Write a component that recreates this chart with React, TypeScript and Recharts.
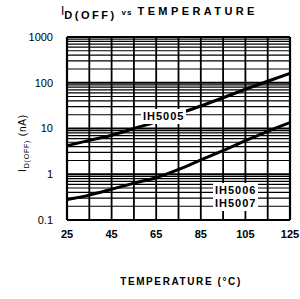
import { LineChart, Line, XAxis, YAxis, ReferenceLine } from "recharts";

// every 10 °C
const temps = [25, 35, 45, 55, 65, 75, 85, 95, 105, 115, 125];
const ih5005 = [4.2, 5.5, 7.1, 10, 14, 21, 31, 47, 72, 108, 160];
const ih5006 = [0.28, 0.35, 0.47, 0.64, 0.84, 1.27, 2.05, 3.3, 5.4, 8.7, 13.4];

const xTicks = [25, 45, 65, 85, 105, 125];
const yTicks = [0.1, 1, 10, 100, 1000];
const decades = [0.1, 1, 10, 100];
const minorSteps = [2, 3, 4, 5, 6, 7, 8, 9];

const data = temps.map((t, i) => ({ t, ih5005: ih5005[i], ih5006: ih5006[i] }));
const minorValues = decades.flatMap((d) => minorSteps.map((m) => +(d * m).toPrecision(3)));

const font = "'Liberation Sans', Arial, sans-serif";

export default function App() {
  return (
    <div style={{ position: "absolute", left: 0, top: 0, width: 300, height: 299, background: "#fff", fontFamily: font, color: "#000" }}>
      <LineChart width={300} height={299} data={data} margin={{ top: 37, right: 10, bottom: 49, left: 0 }}>
        <XAxis
          dataKey="t"
          type="number"
          domain={[25, 125]}
          ticks={xTicks}
          axisLine={false}
          tickLine={false}
          tickSize={0}
          tickMargin={10}
          tick={{ fontSize: 11, fill: "#000", fontFamily: font, fontWeight: 700 }}
        />
        <YAxis
          type="number"
          scale="log"
          domain={[0.1, 1000]}
          allowDataOverflow
          ticks={yTicks}
          width={67}
          axisLine={false}
          tickLine={false}
          tickSize={0}
          tickMargin={14}
          tickFormatter={(v: number) => String(v)}
          tick={{ fontSize: 11, fill: "#000", fontFamily: font }}
        />
        {minorValues.map((v) => (
          <ReferenceLine key={"h" + v} y={v} stroke="#000" strokeWidth={1.2} />
        ))}
        {yTicks.map((v) => (
          <ReferenceLine key={"d" + v} y={v} stroke="#000" strokeWidth={2} />
        ))}
        {temps.map((t) => (
          <ReferenceLine key={"v" + t} x={t} stroke="#000" strokeWidth={t === 25 || t === 125 ? 2.2 : 1.8} />
        ))}
        <Line dataKey="ih5005" type="monotone" stroke="#000" strokeWidth={3} dot={false} isAnimationActive={false} />
        <Line dataKey="ih5006" type="monotone" stroke="#000" strokeWidth={3} dot={false} isAnimationActive={false} />
      </LineChart>

      {/* title */}
      <div style={{ position: "absolute", left: 61, top: 4, whiteSpace: "nowrap", fontWeight: 700, fontSize: 11, lineHeight: "14px" }}>
        <span style={{ fontWeight: 400, fontSize: 12 }}>I</span>
        <span style={{ position: "relative", top: 4, letterSpacing: 2.5 }}>D(OFF)</span>
        <span style={{ fontSize: 8, marginLeft: 5, marginRight: 5, letterSpacing: 1 }}>vs</span>
        <span style={{ letterSpacing: 3.4 }}>TEMPERATURE</span>
      </div>

      {/* y axis title */}
      <div
        style={{
          position: "absolute",
          left: 22,
          top: 143,
          transform: "translate(-50%, -50%) rotate(-90deg)",
          whiteSpace: "nowrap",
          fontSize: 10,
          letterSpacing: 0.8,
        }}
      >
        I<span style={{ fontSize: 7, position: "relative", top: 3 }}>D(OFF)</span> (nA)
      </div>

      {/* x axis title */}
      <div style={{ position: "absolute", left: 181, top: 276, transform: "translateX(-50%)", whiteSpace: "nowrap", fontSize: 10, fontWeight: 700, letterSpacing: 1.6 }}>
        TEMPERATURE (°C)
      </div>

      {/* curve labels */}
      <div style={{ position: "absolute", left: 141, top: 109, background: "#fff", padding: "1px 2px", fontSize: 11, fontWeight: 700, letterSpacing: 1, lineHeight: "13px" }}>
        IH5005
      </div>
      <div style={{ position: "absolute", left: 213, top: 183, background: "#fff", padding: "1px 2px", fontSize: 11, fontWeight: 700, letterSpacing: 1, lineHeight: "13px" }}>
        IH5006
        <br />
        IH5007
      </div>
    </div>
  );
}
